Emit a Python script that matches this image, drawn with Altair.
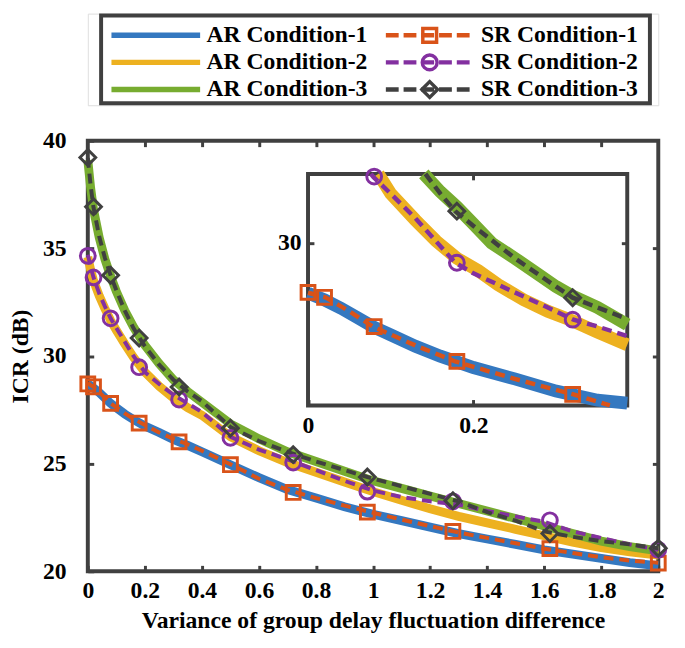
import altair as alt
import pandas as pd

FONT = "Liberation Serif"
FRAME = "#404040"

# ---------------- data ----------------
names = ["AR Condition-1", "AR Condition-2", "AR Condition-3",
         "SR Condition-1", "SR Condition-2", "SR Condition-3"]
colors = ["#3478C0", "#EDB120", "#77AC30", "#D95319", "#8330A0", "#404040"]
sr_shapes = ["square", "circle", "diamond"]

x_lim = [0, 2]
y_lim = [20, 40]
x_ticks = [0, 0.2, 0.4, 0.6, 0.8, 1, 1.2, 1.4, 1.6, 1.8, 2]
y_ticks = [20, 25, 30, 35, 40]

x_grid = [0, 0.01, 0.02, 0.04, 0.06, 0.08, 0.1, 0.13, 0.16, 0.2, 0.25, 0.3, 0.35, 0.4,
          0.5, 0.6, 0.7, 0.8, 0.9, 1.0, 1.1, 1.2, 1.3, 1.4, 1.5, 1.6, 1.7, 1.8, 1.9, 2.0]
ar1 = [28.7, 28.62, 28.52, 28.3, 28.05, 27.8, 27.6, 27.3, 27.05, 26.75, 26.45, 26.12, 25.85, 25.55,
       24.95, 24.35, 23.8, 23.4, 23.0, 22.65, 22.35, 22.05, 21.75, 21.5, 21.25, 21.0, 20.8, 20.6, 20.4, 20.25]
ar2 = [34.6, 34.0, 33.5, 32.8, 32.2, 31.65, 31.2, 30.55, 29.95, 29.25, 28.6, 28.05, 27.6, 27.25,
       26.25, 25.6, 25.05, 24.6, 24.15, 23.7, 23.3, 22.9, 22.55, 22.25, 21.95, 21.65, 21.35, 21.1, 20.9, 20.75]
ar3 = [39.1, 37.8, 36.8, 35.5, 34.5, 33.7, 33.0, 32.1, 31.35, 30.5, 29.65, 28.9, 28.35, 27.85,
       26.85, 26.15, 25.55, 25.1, 24.65, 24.2, 23.85, 23.5, 23.15, 22.8, 22.45, 22.1, 21.75, 21.4, 21.15, 20.95]
sr1 = [28.75, 28.65, 28.57, 28.32, 28.06, 27.8, 27.62, 27.33, 27.08, 26.8, 26.45, 26.15, 25.9, 25.6,
       24.97, 24.3, 23.78, 23.4, 23.05, 22.72, 22.4, 22.1, 21.8, 21.55, 21.3, 21.05, 20.85, 20.65, 20.5, 20.4]
sr2 = [34.7, 34.15, 33.65, 32.9, 32.3, 31.75, 31.3, 30.65, 30.0, 29.25, 28.7, 28.2, 27.8, 27.4,
       26.25, 25.65, 25.2, 24.7, 24.2, 23.75, 23.45, 23.25, 23.1, 22.8, 22.55, 22.3, 21.85, 21.55, 21.25, 21.0]
sr3 = [39.2, 37.9, 36.9, 35.55, 34.55, 33.75, 33.05, 32.1, 31.3, 30.45, 29.6, 28.9, 28.35, 27.9,
       26.7, 26.05, 25.55, 25.1, 24.7, 24.3, 23.95, 23.6, 23.25, 22.75, 22.35, 21.85, 21.6, 21.4, 21.25, 21.07]

marker_x = [0, 0.02, 0.08, 0.18, 0.32, 0.5, 0.72, 0.98, 1.28, 1.62, 2.0]
sr1_m = [28.7, 28.57, 27.8, 26.88, 26.01, 24.95, 23.66, 22.75, 21.85, 21.05, 20.38]
sr2_m = [34.65, 33.65, 31.75, 29.48, 27.98, 26.2, 25.05, 23.7, 23.25, 22.37, 21.0]
sr3_m = [39.22, 36.93, 33.75, 30.84, 28.56, 26.65, 25.42, 24.38, 23.28, 21.75, 21.07]

# inset (zoomed view)
in_x_lim = [0, 0.386]
in_y_lim = [25.72, 31.82]
in_x_ticks = [0, 0.2]
in_y_ticks = [30]
in_ar1_x = [0, 0.02, 0.04, 0.06, 0.08, 0.1, 0.13, 0.16, 0.2, 0.25, 0.3, 0.35, 0.386]
in_ar1_y = [28.68, 28.5, 28.28, 28.03, 27.78, 27.58, 27.28, 27.02, 26.72, 26.42, 26.1, 25.86, 25.78]
in_ar2_x = [0.085, 0.1, 0.13, 0.155, 0.18, 0.206, 0.23, 0.261, 0.29, 0.32, 0.35, 0.386]
in_ar2_y = [31.82, 31.3, 30.6, 30.05, 29.6, 29.27, 28.9, 28.5, 28.2, 27.95, 27.65, 27.32]
in_ar3_x = [0.14, 0.16, 0.18, 0.2, 0.222, 0.25, 0.28, 0.3, 0.32, 0.35, 0.386]
in_ar3_y = [31.82, 31.35, 30.95, 30.5, 30.0, 29.6, 29.15, 28.85, 28.6, 28.3, 27.85]
in_sr1_x = [0, 0.021, 0.05, 0.079, 0.13, 0.178, 0.25, 0.321, 0.365]
in_sr1_y = [28.69, 28.57, 28.2, 27.79, 27.3, 26.88, 26.42, 26.01, 25.72]
in_sr2_x = [0.076, 0.079, 0.1, 0.13, 0.178, 0.2, 0.25, 0.29, 0.321, 0.35, 0.386]
in_sr2_y = [31.82, 31.74, 31.3, 30.65, 29.48, 29.2, 28.7, 28.3, 27.98, 27.8, 27.55]
in_sr3_x = [0.142, 0.16, 0.178, 0.2, 0.25, 0.3, 0.32, 0.35, 0.386]
in_sr3_y = [31.82, 31.3, 30.84, 30.45, 29.6, 28.85, 28.56, 28.3, 28.0]

# ---------------- tables ----------------
def long(xs, ys_list, series):
    rows = []
    for ys, s in zip(ys_list, series):
        for x, y in zip(xs, ys):
            rows.append({"x": x, "y": y, "series": s})
    return pd.DataFrame(rows)

def long2(pairs, series):
    rows = []
    for (xs, ys), s in zip(pairs, series):
        for x, y in zip(xs, ys):
            rows.append({"x": x, "y": y, "series": s})
    return pd.DataFrame(rows)

ar_df = long(x_grid, [ar1, ar2, ar3], names[:3])
sr_df = long(x_grid, [sr1, sr2, sr3], names[3:])
mk_df = long(marker_x, [sr1_m, sr2_m, sr3_m], names[3:])
in_ar_df = long2([(in_ar1_x, in_ar1_y), (in_ar2_x, in_ar2_y), (in_ar3_x, in_ar3_y)], names[:3])
in_sr_df = long2([(in_sr1_x, in_sr1_y), (in_sr2_x, in_sr2_y), (in_sr3_x, in_sr3_y)], names[3:])
in_mk_df = mk_df[(mk_df.x <= in_x_lim[1]) & (mk_df.y <= in_y_lim[1])]

# ---------------- layout constants (pixels) ----------------
W, H = 579, 437
IN_L, IN_R, IN_T, IN_B = 223.5, 547.5, 33.7, 268.7
TICK = 6

color = alt.Color("series:N", scale=alt.Scale(domain=names, range=colors), legend=None)
shape = alt.Shape("series:N", scale=alt.Scale(domain=names[3:], range=sr_shapes), legend=None)
msize = alt.Size("series:N", scale=alt.Scale(domain=names[3:], range=[196, 256, 340]), legend=None)


def ax(orient, values, offset, labels=True, title=None, labelPadding=8, titlePadding=10):
    d = dict(orient=orient, values=values, labels=labels, domain=False, grid=False,
             ticks=True, tickSize=TICK, tickWidth=3, tickColor=FRAME, offset=offset,
             minExtent=0,
             labelFont=FONT, labelFontSize=24, labelFontWeight="bold", labelColor="black",
             labelFlush=False, labelOverlap=False, format="~g", labelPadding=labelPadding)
    if title:
        d.update(title=title, titleFont=FONT, titleFontSize=24, titleFontWeight="bold",
                 titleColor="black", titlePadding=titlePadding)
    else:
        d["title"] = None
    return alt.Axis(**d)


def frame_layer(xl, yl, xs, ys):
    df = pd.DataFrame({"x0": [xl[0]], "x1": [xl[1]], "y0": [yl[0]], "y1": [yl[1]]})
    return alt.Chart(df).mark_rect(fill="transparent", stroke=FRAME, strokeWidth=4).encode(
        x=alt.X("x0:Q", scale=xs, axis=None), x2="x1:Q",
        y=alt.Y("y0:Q", scale=ys, axis=None), y2="y1:Q")


# ---------------- main plot ----------------
xs_m = alt.Scale(domain=x_lim, nice=False, zero=False)
ys_m = alt.Scale(domain=y_lim, nice=False, zero=False)

m_frame = frame_layer(x_lim, y_lim, xs_m, ys_m)
m_ar = alt.Chart(ar_df).mark_line(strokeWidth=9).encode(
    x=alt.X("x:Q", scale=xs_m, axis=ax("bottom", x_ticks, -TICK,
            title="Variance of group delay fluctuation difference", labelPadding=8, titlePadding=6)),
    y=alt.Y("y:Q", scale=ys_m, axis=ax("left", y_ticks, -TICK, title="ICR (dB)",
            labelPadding=22, titlePadding=10)),
    color=color)
m_sr = alt.Chart(sr_df).mark_line(strokeWidth=4, strokeDash=[10, 6]).encode(
    x=alt.X("x:Q", scale=xs_m, axis=ax("top", x_ticks[1:-1], -TICK, labels=False)),
    y=alt.Y("y:Q", scale=ys_m, axis=ax("right", y_ticks[1:-1], -TICK, labels=False)),
    color=color)
m_mk = alt.Chart(mk_df).mark_point(filled=False, strokeWidth=3, opacity=1).encode(
    x=alt.X("x:Q", scale=xs_m, axis=None), y=alt.Y("y:Q", scale=ys_m, axis=None),
    color=color, shape=shape, size=msize)
main = alt.layer(m_frame, m_ar, m_sr, m_mk).resolve_axis(x="independent", y="independent")

# ---------------- inset ----------------
xs_i = alt.Scale(domain=in_x_lim, range=[IN_L, IN_R], nice=False, zero=False)
ys_i = alt.Scale(domain=in_y_lim, range=[IN_B, IN_T], nice=False, zero=False)

i_frame = frame_layer(in_x_lim, in_y_lim, xs_i, ys_i)
i_ar = alt.Chart(in_ar_df).mark_line(strokeWidth=13).encode(
    x=alt.X("x:Q", scale=xs_i, axis=ax("bottom", in_x_ticks, -(H - IN_B + TICK), labelPadding=8)),
    y=alt.Y("y:Q", scale=ys_i, axis=ax("left", in_y_ticks, -(IN_L + TICK), labelPadding=7)),
    color=color)
i_sr = alt.Chart(in_sr_df).mark_line(strokeWidth=4.5, strokeDash=[10, 6]).encode(
    x=alt.X("x:Q", scale=xs_i, axis=ax("top", [0.2], -(IN_T + TICK), labels=False)),
    y=alt.Y("y:Q", scale=ys_i, axis=ax("right", in_y_ticks, -(W - IN_R + TICK), labels=False)),
    color=color)
i_mk = alt.Chart(in_mk_df).mark_point(filled=False, strokeWidth=3, opacity=1).encode(
    x=alt.X("x:Q", scale=xs_i, axis=None), y=alt.Y("y:Q", scale=ys_i, axis=None),
    color=color, shape=shape, size=msize)
inset = alt.layer(i_frame, i_ar, i_sr, i_mk).resolve_axis(x="independent", y="independent")

plot = alt.layer(main, inset).resolve_scale(x="independent", y="independent").properties(
    width=W, height=H)

# ---------------- legend (drawn box on top) ----------------
leg_df = pd.DataFrame({"series": names, "row": [0, 1, 2, 0, 1, 2], "col": [0, 0, 0, 1, 1, 1],
                       "kind": ["AR"] * 3 + ["SR"] * 3})
LH = 93
lx = alt.X("col:Q", scale=alt.Scale(domain=[0, 1], range=[24, 302.5]), axis=None)
ly = alt.Y("row:Q", scale=alt.Scale(domain=[0, 2], range=[22, 77]), axis=None)
box = alt.Chart(pd.DataFrame({"k": [0]})).mark_rect(
    fill="white", stroke=FRAME, strokeWidth=4).encode(
    x=alt.value(13.5), x2=alt.value(570.5), y=alt.value(2), y2=alt.value(LH - 2))
l_ar = alt.Chart(leg_df).transform_filter(alt.datum.kind == "AR").mark_rule(
    strokeWidth=5.5, x2Offset=90).encode(x=lx, x2="col:Q", y=ly, color=color)
l_sr = alt.Chart(leg_df).transform_filter(alt.datum.kind == "SR").mark_rule(
    strokeWidth=4.5, strokeDash=[13, 5], x2Offset=89).encode(x=lx, x2="col:Q", y=ly, color=color)
l_mk = alt.Chart(leg_df).transform_filter(alt.datum.kind == "SR").mark_point(
    filled=False, strokeWidth=3.5, opacity=1, xOffset=44.5).encode(
    x=lx, y=ly, color=color, shape=shape, size=msize)
l_tx = alt.Chart(leg_df).mark_text(align="left", baseline="middle", dx=96.5, font=FONT,
                                   fontSize=24, fontWeight="bold", color="black").encode(
    x=lx, y=ly, text="series:N")
legend = alt.layer(box, l_ar, l_sr, l_mk, l_tx).properties(width=W, height=LH)

chart = alt.vconcat(legend, plot, spacing=22).resolve_scale(
    x="independent", y="independent").properties(
    padding={"left": 0, "top": 0, "right": 0, "bottom": 0}).configure_view(
    stroke="transparent").configure(font=FONT)

chart.save("out.html", embed_options={"renderer": "svg", "actions": False})
